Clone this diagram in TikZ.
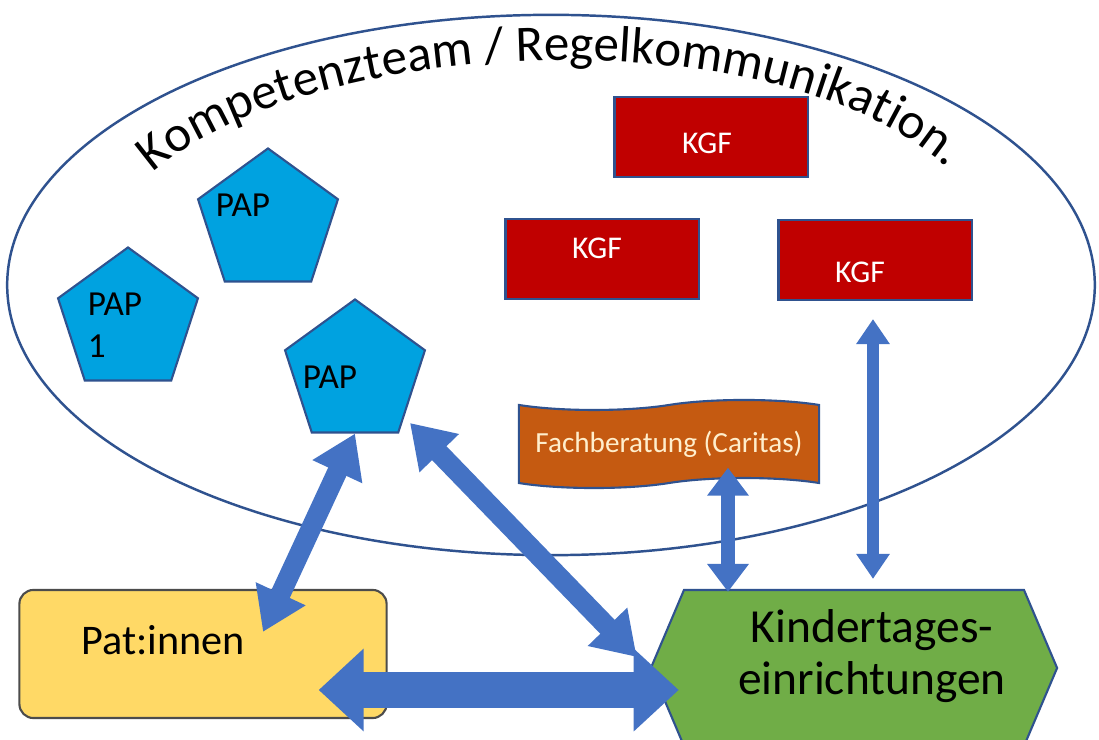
\documentclass[tikz,border=0pt]{standalone}
\usepackage{fontspec}
\setsansfont{Carlito}
\usetikzlibrary{shapes.geometric,shapes.symbols,arrows.meta,calc,decorations.text}

\definecolor{edgeblue}{RGB}{47,82,143}
\definecolor{kgfred}{RGB}{192,0,0}
\definecolor{papblue}{RGB}{0,162,224}
\definecolor{fachorange}{RGB}{197,90,17}
\definecolor{fachtext}{RGB}{255,238,204}
\definecolor{patyellow}{RGB}{255,217,102}
\definecolor{kitagreen}{RGB}{112,173,71}
\definecolor{arrowblue}{RGB}{68,114,196}

\newcommand\titlefont{\sffamily\fontsize{14.5}{17}\selectfont}

\tikzset{
  kgfbox/.style={draw=edgeblue, line width=0.6pt, fill=kgfred,
    minimum width=1.93cm, minimum height=0.8cm, inner sep=0pt},
  kgftext/.style={text=white, font=\sffamily\fontsize{9}{10}\selectfont},
  papbox/.style={regular polygon, regular polygon sides=5, draw=edgeblue,
    line width=0.6pt, fill=papblue, minimum size=1.47cm, inner sep=0pt},
  paptext/.style={font=\sffamily\fontsize{10}{12}\selectfont, align=left},
  twoway/.style n args={3}{draw=arrowblue, line width=#1,
    arrows={Triangle[width=#2,length=#3]-Triangle[width=#2,length=#3]}},
}

\begin{document}
\begin{tikzpicture}[x=0.01cm, y=-0.01cm]
  \clip (0,0) rectangle (1099,740);
  \fill[white] (0,0) rectangle (1099,740);

  % team ellipse and its bent title
  \node[ellipse, draw=edgeblue, line width=0.7pt, minimum width=10.87cm,
    minimum height=5.4cm, inner sep=0pt] (team) at (551,285) {};
  \path[decorate, decoration={text along path, text align=center,
    text={|\titlefont|Kompetenzteam / Regelkommunikation.}}]
    (140,185) .. controls (290,30) and (800,10) .. (960,180);

  % KGF boxes
  \node[kgfbox, label={[kgftext, xshift=-0.04cm, yshift=-0.06cm]center:KGF}] (kgfa) at (711,137) {};
  \node[kgfbox, label={[kgftext, xshift=-0.05cm, yshift=0.11cm]center:KGF}] (kgfb) at (602,259) {};
  \node[kgfbox, label={[kgftext, xshift=-0.15cm, yshift=-0.12cm]center:KGF}] (kgfc) at (875,260) {};

  % PAP pentagons
  \node[papbox, label={[paptext, xshift=-0.25cm, yshift=0.17cm]center:PAP}] (papa) at (268,222) {};
  \node[papbox, label={[paptext, xshift=-0.13cm, yshift=-0.04cm]center:PAP\\1}] (papb) at (128,321) {};
  \node[papbox, label={[paptext, xshift=-0.25cm, yshift=-0.04cm]center:PAP}] (papc) at (355,373) {};

  % Fachberatung banner
  \node[tape, tape bend top=in and out, tape bend bottom=in and out,
    tape bend height=0.1cm, draw=edgeblue, line width=0.6pt, fill=fachorange,
    text=fachtext, minimum width=3.0cm, minimum height=0.88cm,
    font=\sffamily\fontsize{8.3}{10}\selectfont] (fach) at (669,444)
    {Fachberatung (Caritas)};

  % Pat:innen and Kitas
  \node[draw=black!70, line width=0.6pt, fill=patyellow, rounded corners=0.14cm,
    minimum width=3.67cm, minimum height=1.28cm,
    label={[font=\sffamily\fontsize{12}{14}\selectfont, xshift=-0.4cm, yshift=0.14cm]center:Pat:innen}]
    (pat) at (203,654) {};
  \node[signal, signal to=east and west, signal pointer angle=134,
    draw=edgeblue, line width=0.6pt, fill=kitagreen, minimum width=4.06cm,
    minimum height=1.56cm, inner sep=0pt,
    label={[align=center, font=\sffamily\fontsize{13.5}{15}\selectfont,
      xshift=0.18cm, yshift=0.12cm]center:Kindertages-\\einrichtungen}]
    (kita) at (854,668) {};

  % double arrows
  \draw[twoway={0.2cm}{0.52cm}{0.42cm}] (papc.south) -- ($(pat.north)+(60,43)$);
  \draw[twoway={0.2cm}{0.52cm}{0.42cm}] ($(papc.center)+(55,50)$) -- ($(kita.west)+(-13,-11)$);
  \draw[twoway={0.36cm}{0.8cm}{0.45cm}] ($(pat.east)+(-69,36)$) -- ($(kita.west)+(29,22)$);
  \draw[twoway={0.14cm}{0.4cm}{0.28cm}] ($(fach.south)+(59,-16)$) -- ($(kita.north)+(-126,3)$);
  \draw[twoway={0.12cm}{0.32cm}{0.25cm}] ($(kgfc.south)+(-2,18)$) -- ($(kita.north)+(19,-10)$);
\end{tikzpicture}
\end{document}
